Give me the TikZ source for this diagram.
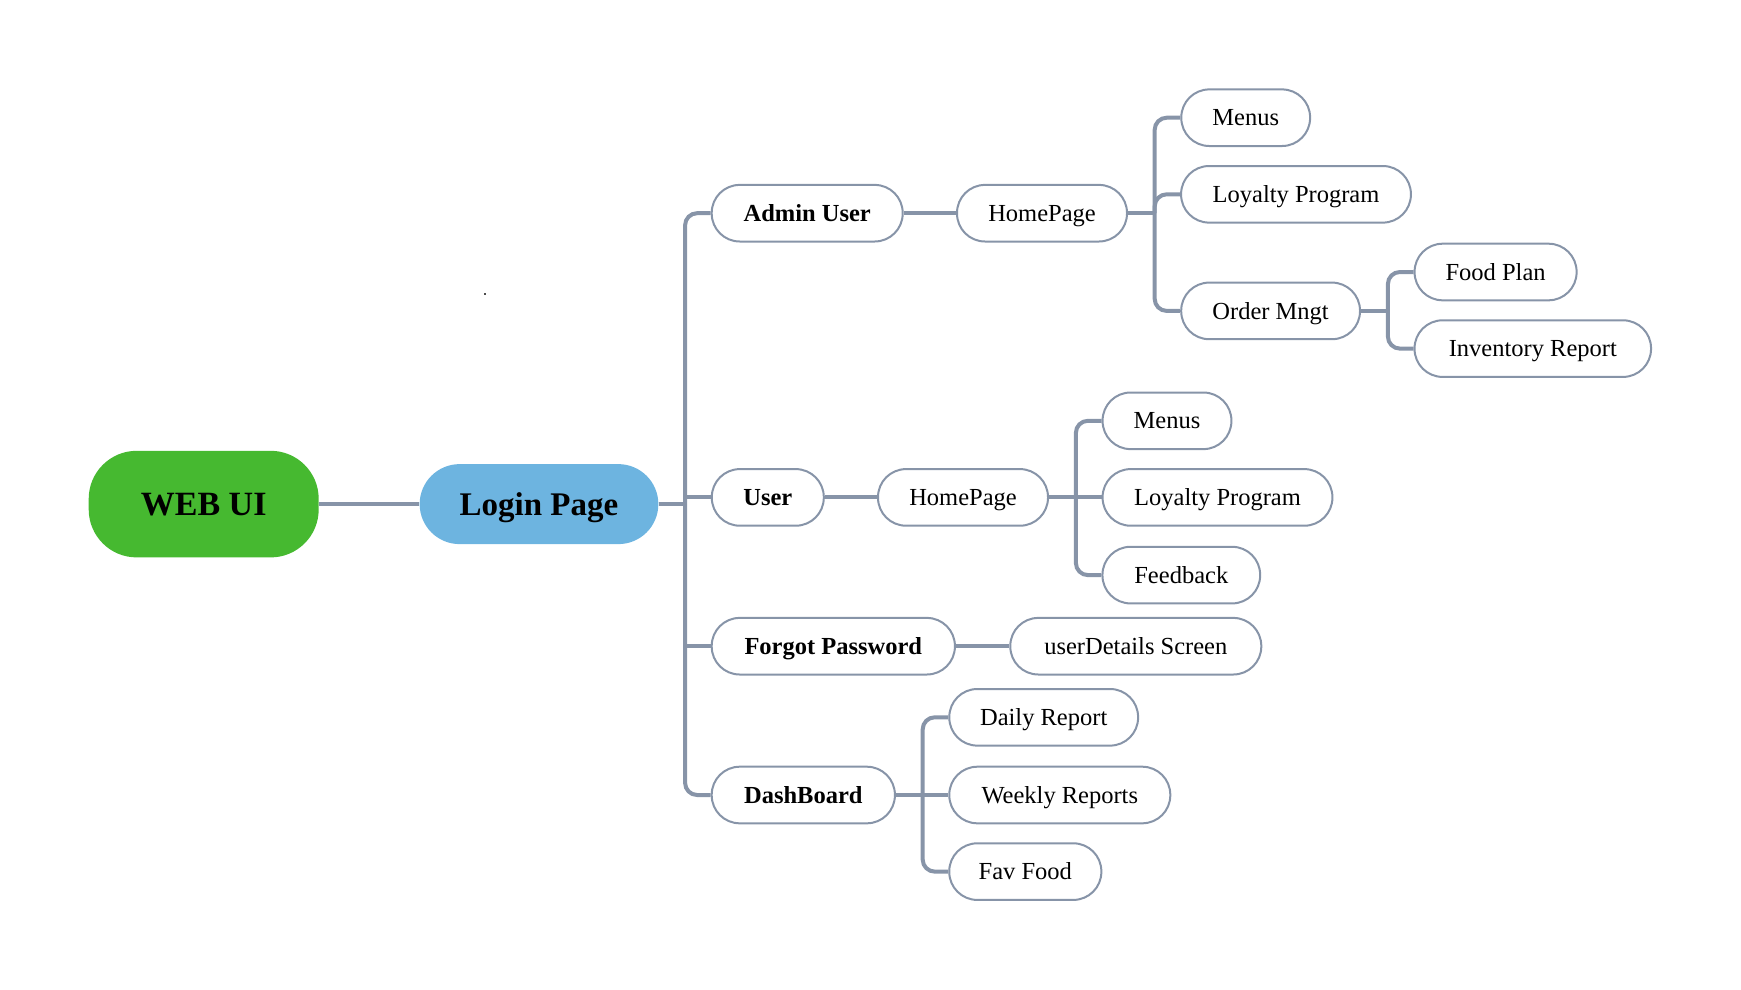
\documentclass[tikz,border=0pt]{standalone}
\usepackage{fontspec}
\setmainfont{Liberation Serif}
\definecolor{lc}{RGB}{135,148,168}
\definecolor{webgreen}{RGB}{70,185,48}
\definecolor{loginblue}{RGB}{109,180,224}
\tikzset{
  leaf/.style={draw=lc, line width=2pt, fill=white, rounded corners=28pt, minimum height=56.6pt, inner sep=0pt, text height=16.2pt, text depth=0pt, font=\fontsize{24.5}{28}\selectfont, text=black},
  bleaf/.style={leaf, font=\fontsize{24.5}{28}\selectfont\bfseries},
  conn/.style={draw=lc, line width=4pt},
  rconn/.style={conn, rounded corners=12pt},
}
\begin{document}
\begin{tikzpicture}[x=1pt,y=-1pt]
\useasboundingbox (0,0) rectangle (1741,989);
% root nodes
\node[fill=webgreen, rounded corners=48pt, minimum width=230pt, minimum height=106.6pt, inner sep=0pt, text height=22.5pt, text depth=0pt, font=\fontsize{34}{40}\selectfont\bfseries] (web) at (203.7,504.1) {WEB UI};
\node[fill=loginblue, rounded corners=40pt, minimum width=238.7pt, minimum height=80pt, inner sep=0pt, text height=21.8pt, text depth=0pt, font=\fontsize{33}{38}\selectfont\bfseries] (login) at (539,504.1) {Login Page};
% level 1
\node[bleaf, minimum width=191pt] (admin) at (807.2,213.2) {Admin User};
\node[bleaf, minimum width=112pt] (user) at (767.8,497.4) {User};
\node[bleaf, minimum width=243.2pt] (forgot) at (833.3,646.2) {Forgot Password};
\node[bleaf, minimum width=183.2pt] (dash) at (803.3,795) {DashBoard};
% admin branch
\node[leaf, minimum width=170pt] (ahome) at (1042,213.2) {HomePage};
\node[leaf, minimum width=128.8pt] (amenus) at (1245.7,117.7) {Menus};
\node[leaf, minimum width=229.8pt] (aloyal) at (1296,194.3) {Loyalty Program};
\node[leaf, minimum width=178.8pt] (order) at (1270.6,310.9) {Order Mngt};
\node[leaf, minimum width=162pt] (food) at (1495.6,272) {Food Plan};
\node[leaf, minimum width=236.5pt] (inv) at (1532.8,348.6) {Inventory Report};
% user branch
\node[leaf, minimum width=170pt] (uhome) at (963,497.4) {HomePage};
\node[leaf, minimum width=128.8pt] (umenus) at (1167,420.8) {Menus};
\node[leaf, minimum width=229.8pt] (uloyal) at (1217.5,497.4) {Loyalty Program};
\node[leaf, minimum width=157.7pt] (feed) at (1181.3,575.1) {Feedback};
% forgot branch
\node[leaf, minimum width=251pt] (udet) at (1135.8,646.2) {userDetails Screen};
% dashboard branch
\node[leaf, minimum width=188.8pt] (daily) at (1043.7,717.3) {Daily Report};
\node[leaf, minimum width=221pt] (weekly) at (1059.8,795) {Weekly Reports};
\node[leaf, minimum width=152.1pt] (fav) at (1025.3,871.6) {Fav Food};
% bus coordinates
\coordinate (t0) at (685.1,504.1);
\coordinate (t1) at (1154.7,213.2);
\coordinate (t2) at (1387.9,310.9);
\coordinate (t3) at (1075.9,497.4);
\coordinate (t4) at (922.7,795);
% connectors
\draw[conn] (web.east) -- (login.west);
\draw[conn] (login.east) -- (t0);
\draw[rconn] (t0) |- (admin.west);
\draw[rconn] (t0) |- (dash.west);
\draw[conn] (user.west) -- (user.west -| t0);
\draw[conn] (forgot.west) -- (forgot.west -| t0);
\draw[conn] (admin.east) -- (ahome.west);
\draw[conn] (user.east) -- (uhome.west);
\draw[conn] (forgot.east) -- (udet.west);
\draw[conn] (ahome.east) -- (t1);
\draw[rconn] (t1) |- (amenus.west);
\draw[rconn] (t1) |- (aloyal.west);
\draw[rconn] (t1) |- (order.west);
\draw[conn] (order.east) -- (t2);
\draw[rconn] (t2) |- (food.west);
\draw[rconn] (t2) |- (inv.west);
\draw[conn] (uhome.east) -- (t3);
\draw[rconn] (t3) |- (umenus.west);
\draw[rconn] (t3) |- (feed.west);
\draw[conn] (uloyal.west) -- (t3);
\draw[conn] (dash.east) -- (t4);
\draw[rconn] (t4) |- (daily.west);
\draw[rconn] (t4) |- (fav.west);
\draw[conn] (weekly.west) -- (t4);
% stray dot
\fill[black!70] (484.2,293.2) rectangle (486.2,295.2);
\end{tikzpicture}
\end{document}
